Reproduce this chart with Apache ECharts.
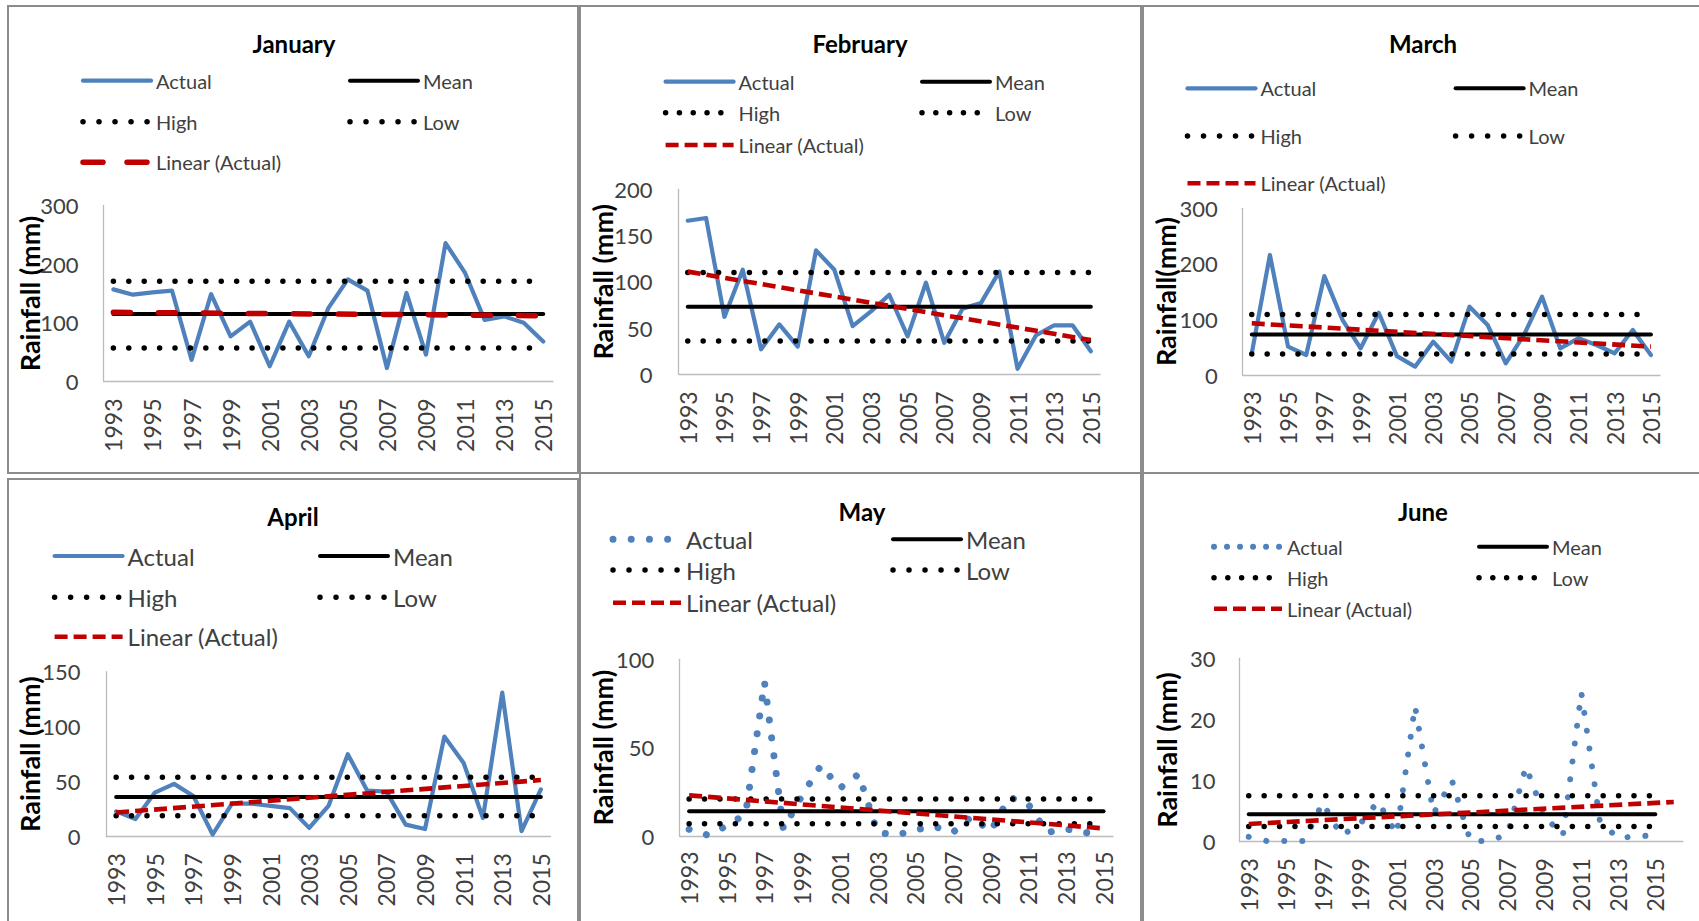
<!DOCTYPE html>
<html>
<head>
<meta charset="utf-8">
<title>Monthly rainfall 1993–2015</title>
<script src="https://cdn.jsdelivr.net/npm/echarts@6/dist/echarts.min.js"></script>
<style>
  html, body { margin: 0; padding: 0; background: #ffffff; }
  #page { position: relative; width: 1699px; height: 921px; overflow: hidden; background: #ffffff; }
  .frame { position: absolute; box-sizing: border-box; border: 2px solid #8c8c8c; }
  .chart { position: absolute; left: 0; top: 0; width: 1699px; height: 921px; }
</style>
</head>
<body>
<div id="page"></div>
<script>
// ---- data -------------------------------------------------------------
const YEARS = ['1993', '1994', '1995', '1996', '1997', '1998', '1999', '2000',
  '2001', '2002', '2003', '2004', '2005', '2006', '2007', '2008', '2009',
  '2010', '2011', '2012', '2013', '2014', '2015'];
const FORECAST_YEARS = ['2016'];   // June trend is projected one period ahead
const MONTHS = ['January', 'February', 'March', 'April', 'May', 'June'];
const SERIES_NAMES = ['Actual', 'Mean', 'High', 'Low', 'Linear (Actual)'];
const Y_NAMES = ['Rainfall (mm)', 'Rainfall (mm)', 'Rainfall(mm)', 'Rainfall (mm)', 'Rainfall (mm)', 'Rainfall (mm)'];

// monthly rainfall totals (mm), 1993–2015
const JAN_ACTUAL = [157, 148, 152, 155, 37, 149, 77, 102, 26, 102, 43, 125, 174, 155, 23, 151, 46, 236, 185, 105, 111, 100, 68];
const FEB_ACTUAL = [166, 169, 62, 113, 27, 54, 30, 134, 113, 52, 68, 86, 41, 99, 34, 71, 77, 111, 6, 42, 53, 53, 25];
const MAR_ACTUAL = [39, 216, 51, 36, 178, 99, 48, 112, 34, 15, 60, 24, 123, 90, 21, 72, 141, 48, 66, 54, 39, 81, 36];
const APR_ACTUAL = [23, 16, 40, 48, 37, 2, 30, 30, 28, 26, 8, 28, 75, 42, 41, 11, 7, 91, 67, 17, 131, 5, 43];
const MAY_ACTUAL = [3.8, 0.5, 5.7, 12.4, 87, 4, 23, 40, 27, 35, 2, 0.5, 3.5, 5.5, 2, 11, 2.5, 22, 18, 2, 4, 2, 0.5];
const JUN_ACTUAL = [0.8, 0.1, 0.1, 0.1, 6.4, 1.0, 2.8, 6.6, 1.2, 22.2, 4.6, 10.0, 0.1, 0.1, 1.2, 12.3, 4.2, 1.0, 24.4, 3.4, 0.5, 1.0, 0.9];
const ACTUAL = [JAN_ACTUAL, FEB_ACTUAL, MAR_ACTUAL, APR_ACTUAL, MAY_ACTUAL, JUN_ACTUAL];

// reference levels per month (mm)
const MEAN = [115, 73, 73, 36, 14, 4.5];
const HIGH = [171, 110, 109, 54, 21, 7.5];
const LOW = [57, 36, 38, 19, 7, 2.5];
// linear trend of the actual values: value at the first and at the last category
const TREND_START = [118, 111, 93, 22, 23, 2.9];
const TREND_END = [112, 37, 51, 51.5, 4.3, 6.5];

// value-axis ticks
const Y_MAX = [300, 200, 300, 150, 100, 30];
const Y_STEP = [100, 50, 100, 50, 50, 10];

// ---- layout & style -------------------------------------------------------
const BLUE = '#4f81bd';
const RED = '#c00000';
const INK = '#000000';
const LABEL = '#404040';
const AXIS = '#bcbcbc';
const FONT = 'Lato, "Open Sans", "DejaVu Sans", sans-serif';

// page coordinates of every panel
const PANELS = [
  { frame: [7, 5, 572, 469], title: [294, 31.5], grid: [103.6, 205.5, 449.4, 176],
    textCols: [156, 423], rows: [80.7, 121.7, 162.3], legendFont: 20, legendDot: 16,
    nameGap: 60.5, yMargin: 25, xMargin: 17, longDash: true },
  { frame: [579, 5, 563, 469], title: [860, 31.5], grid: [678.6, 189.3, 421.4, 185],
    textCols: [738.6, 995], rows: [81.7, 112.7, 145], legendFont: 20, legendDot: 13.8,
    nameGap: 62.5, yMargin: 26, xMargin: 17 },
  { frame: [1142, 5, 600, 469], title: [1423, 31.5], grid: [1242.7, 208.3, 417.3, 166.7],
    textCols: [1260.5, 1528.6], rows: [88.3, 136, 183.3], legendFont: 20, legendDot: 16,
    nameGap: 64, yMargin: 25, xMargin: 16.5 },
  { frame: [7, 478, 572, 500], title: [293, 504], grid: [106.5, 671.7, 444, 165],
    textCols: [127.6, 393], rows: [556, 597.3, 636.7], legendFont: 24, legendDot: 16,
    nameGap: 63.5, yMargin: 26, xMargin: 16.5 },
  { frame: [579, 472, 563, 500], title: [862, 499.5], grid: [679.7, 659.3, 433.3, 176.7],
    textCols: [686, 966], rows: [539.3, 570, 602.7], legendFont: 24, legendDot: 16,
    nameGap: 63.5, yMargin: 25.5, xMargin: 15.5,
    actualDots: { size: 7, gap: 18, legendGap: 18.2 } },
  { frame: [1142, 472, 600, 500], title: [1423, 499.5], grid: [1239.5, 658.3, 443.5, 183.4],
    textCols: [1287, 1552], rows: [546.7, 577.7, 608.7], legendFont: 20, legendDot: 13.8,
    nameGap: 60, yMargin: 24, xMargin: 16.5, forecast: true,
    actualDots: { size: 6, gap: 18, legendGap: 13 } }
];

const ITEM_W = 68;
const ITEM_H = 14;

function plotStyles(P) {
  const actual = P.actualDots
    ? { color: BLUE, width: P.actualDots.size, type: [0.01, P.actualDots.gap], cap: 'round' }
    : { color: BLUE, width: 4.2, cap: 'round', join: 'round' };
  const mean = { color: INK, width: 4, cap: 'round' };
  const dots = { color: INK, width: 5.5, type: [0.01, 15.4], cap: 'round' };
  const trend = P.longDash
    ? { color: RED, width: 5.5, type: [17, 28], cap: 'round' }
    : { color: RED, width: 4.6, type: [13, 6], cap: 'butt' };
  return [actual, mean, dots, dots, trend];
}

function legendStyles(P) {
  const actual = P.actualDots
    ? { color: BLUE, width: P.actualDots.size, type: [0.01, P.actualDots.legendGap], cap: 'round' }
    : { color: BLUE, width: 4.2, cap: 'round' };
  const mean = { color: INK, width: 4, cap: 'round' };
  const dots = { color: INK, width: 5.5, type: [0.01, P.legendDot], cap: 'round' };
  const trend = P.longDash
    ? { color: RED, width: 5.5, type: [20, 24], cap: 'round' }
    : { color: RED, width: 4.6, type: [13, 6], cap: 'butt' };
  return [actual, mean, dots, dots, trend];
}

// legend slot (column, row) of every series
const LEGEND_SLOTS = [[0, 0], [1, 0], [0, 1], [1, 1], [0, 2]];

function buildOption(i) {
  const P = PANELS[i];
  const cats = P.forecast ? YEARS.concat(FORECAST_YEARS) : YEARS;
  const first = YEARS[0];
  const last = YEARS[YEARS.length - 1];
  const trendLast = cats[cats.length - 1];
  const pStyles = plotStyles(P);
  const lStyles = legendStyles(P);

  const seriesData = [
    ACTUAL[i],
    [[first, MEAN[i]], [last, MEAN[i]]],
    [[first, HIGH[i]], [last, HIGH[i]]],
    [[first, LOW[i]], [last, LOW[i]]],
    [[first, TREND_START[i]], [trendLast, TREND_END[i]]]
  ];

  const series = SERIES_NAMES.map((name, k) => ({
    name: name,
    type: 'line',
    data: seriesData[k],
    symbol: 'none',
    silent: true,
    animation: false,
    lineStyle: pStyles[k]
  }));

  const legends = SERIES_NAMES.map((name, k) => {
    const slot = LEGEND_SLOTS[k];
    const lw = lStyles[k].width;
    const boxH = Math.max(ITEM_H, P.legendFont);
    return {
      data: [name],
      left: P.textCols[slot[0]] - 5 - ITEM_W - lw / 2,
      top: P.rows[slot[1]] - boxH / 2,
      padding: 0,
      itemWidth: ITEM_W,
      itemHeight: ITEM_H,
      selectedMode: false,
      itemStyle: { opacity: 0 },
      lineStyle: lStyles[k],
      textStyle: { fontFamily: FONT, fontSize: P.legendFont, color: LABEL }
    };
  });

  return {
    animation: false,
    backgroundColor: 'transparent',
    title: {
      text: MONTHS[i],
      left: P.title[0],
      top: P.title[1],
      textAlign: 'center',
      padding: 0,
      textStyle: { fontFamily: FONT, fontWeight: 'bold', fontSize: 24, color: INK }
    },
    legend: legends,
    grid: { left: P.grid[0], top: P.grid[1], width: P.grid[2], height: P.grid[3], containLabel: false },
    xAxis: {
      type: 'category',
      data: cats,
      boundaryGap: true,
      axisLine: { show: true, lineStyle: { color: AXIS, width: 1.3 } },
      axisTick: { show: false },
      splitLine: { show: false },
      axisLabel: {
        interval: 1, rotate: 90, margin: P.xMargin,
        fontFamily: FONT, fontSize: 23, color: LABEL
      }
    },
    yAxis: {
      type: 'value',
      min: 0,
      max: Y_MAX[i],
      interval: Y_STEP[i],
      axisLine: { show: true, lineStyle: { color: AXIS, width: 1.3 } },
      axisTick: { show: false },
      splitLine: { show: false },
      axisLabel: { margin: P.yMargin, fontFamily: FONT, fontSize: 22, color: LABEL },
      name: Y_NAMES[i],
      nameLocation: 'middle',
      nameGap: P.nameGap,
      nameMoveOverlap: false,
      nameTextStyle: { fontFamily: FONT, fontWeight: 'bold', fontSize: 27, color: INK }
    },
    series: series
  };
}

const page = document.getElementById('page');
PANELS.forEach((P) => {
  const frame = document.createElement('div');
  frame.className = 'frame';
  frame.style.left = P.frame[0] + 'px';
  frame.style.top = P.frame[1] + 'px';
  frame.style.width = P.frame[2] + 'px';
  frame.style.height = P.frame[3] + 'px';
  page.appendChild(frame);
});
PANELS.forEach((P, i) => {
  const el = document.createElement('div');
  el.className = 'chart';
  page.appendChild(el);
  const chart = echarts.init(el, null, { renderer: 'svg', width: 1699, height: 921 });
  chart.setOption(buildOption(i));
});
</script>
</body>
</html>
